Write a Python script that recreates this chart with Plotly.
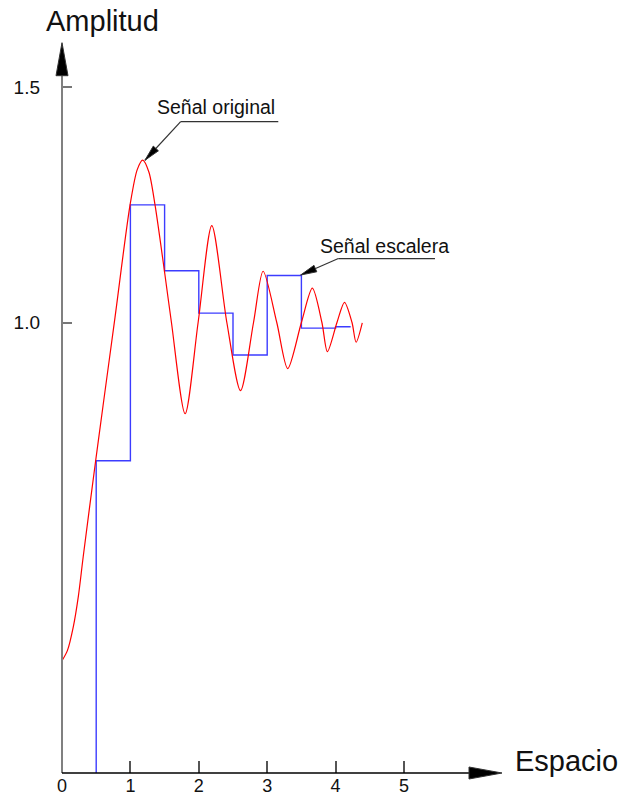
import plotly.graph_objects as go

# ---------------- data ----------------
# original signal (key points; drawn as a spline)
orig_x = [0.0, 0.08, 0.165, 0.24, 0.31, 0.49, 0.60, 0.775, 0.994, 1.10, 1.18, 1.27, 1.36, 1.496, 1.60, 1.80,
          1.99, 2.19, 2.41, 2.61, 2.80, 2.94, 3.14, 3.30, 3.50, 3.66, 3.80, 3.88, 4.02, 4.13, 4.24, 4.30, 4.39]
orig_y = [0.281, 0.303, 0.353, 0.419, 0.502, 0.704, 0.823, 1.011, 1.249, 1.325, 1.345, 1.320, 1.250, 1.111, 1.000, 0.806,
          1.000, 1.206, 1.000, 0.855, 1.000, 1.109, 1.000, 0.902, 1.000, 1.073, 1.000, 0.938, 1.000, 1.043, 1.000, 0.958, 0.999]

# staircase signal
stair_edges = [0.5, 1.0, 1.5, 2.0, 2.5, 3.0, 3.5, 4.0, 4.22]
stair_vals = [0.706, 1.250, 1.110, 1.020, 0.931, 1.100, 0.988, 0.991]
stair_base = 0.0423

x_ticks = [0, 1, 2, 3, 4, 5]
x_tick_labels = ["0", "1", "2", "3", "4", "5"]
y_ticks = [1.0, 1.5]
y_tick_labels = ["1.0", "1.5"]

x_range = [0, 6.5497]
y_range = [0.0423, 1.6112]

# annotation anchors (data coordinates)
orig_label = "Señal original"
orig_text_pos = (2.25, 1.458)
orig_tip = (1.213, 1.345)
orig_knee = (1.735, 1.427)
orig_end = (3.162, 1.427)

esc_label = "Señal escalera"
esc_text_pos = (4.715, 1.163)
esc_tip = (3.49, 1.101)
esc_knee = (4.04, 1.136)
esc_end = (5.453, 1.136)

# ---------------- layout geometry ----------------
W, H = 620, 795
ML, MR, MT, MB = 62, 110, 35, 22
PW, PH = W - ML - MR, H - MT - MB
FONT = "Liberation Sans, Arial, sans-serif"


def d2p(x, y):
    px = ML + (x - x_range[0]) / (x_range[1] - x_range[0]) * PW
    py = MT + (y_range[1] - y) / (y_range[1] - y_range[0]) * PH
    return px, py


def p2paper(px, py):
    return (px - ML) / PW, (H - MB - py) / PH


def arrowhead(tip_px, tail_px, length, halfw, color="black"):
    tx, ty = tip_px
    dx, dy = tail_px[0] - tx, tail_px[1] - ty
    n = (dx * dx + dy * dy) ** 0.5
    ux, uy = dx / n, dy / n
    bx, by = ux * length, uy * length
    nx, ny = -uy * halfw, ux * halfw
    pts = [(0, 0), (bx + nx, by + ny), (bx - nx, by - ny)]
    path = "M " + " L ".join(f"{p[0]:.2f},{-p[1]:.2f}" for p in pts) + " Z"
    ax, ay = p2paper(tx, ty)
    return dict(type="path", xref="paper", yref="paper", xsizemode="pixel", ysizemode="pixel",
                xanchor=ax, yanchor=ay, path=path, fillcolor=color,
                line=dict(color="#333333", width=1), layer="above")


fig = go.Figure()

sx = [stair_edges[0]] + stair_edges
sy = [stair_base] + stair_vals + [stair_vals[-1]]
fig.add_trace(go.Scatter(x=sx, y=sy, mode="lines", line=dict(color="#3c3cff", width=1.4, shape="hv"),
                         hoverinfo="skip", showlegend=False))
fig.add_trace(go.Scatter(x=orig_x, y=orig_y, mode="lines",
                         line=dict(color="#ff0000", width=1.2, shape="spline", smoothing=0.8),
                         hoverinfo="skip", showlegend=False))

shapes = []
# axis lines
x0p, y0p = p2paper(62, 773)
shapes.append(dict(type="line", xref="paper", yref="paper", x0=x0p, x1=x0p, y0=y0p,
                   y1=p2paper(62, 76)[1], line=dict(color="#808080", width=2), layer="above"))
shapes.append(dict(type="line", xref="paper", yref="paper", x0=x0p, x1=p2paper(470, 773)[0], y0=y0p,
                   y1=y0p, line=dict(color="black", width=1.5), layer="above"))
# axis arrowheads
shapes.append(arrowhead((62, 42.7), (62, 76), 33, 6))
shapes.append(arrowhead((502, 773), (469, 773), 33, 6))

# leader lines
for tip, knee, end in [(orig_tip, orig_knee, orig_end), (esc_tip, esc_knee, esc_end)]:
    shapes.append(dict(type="line", xref="x", yref="y", x0=knee[0], y0=knee[1], x1=end[0], y1=end[1],
                       line=dict(color="#333333", width=1.2), layer="above"))
    shapes.append(dict(type="line", xref="x", yref="y", x0=tip[0], y0=tip[1], x1=knee[0], y1=knee[1],
                       line=dict(color="#333333", width=1.2), layer="above"))
    shapes.append(arrowhead(d2p(*tip), d2p(*knee), 16, 3.5))

annotations = []
for txt, pos in [(orig_label, orig_text_pos), (esc_label, esc_text_pos)]:
    annotations.append(dict(x=pos[0], y=pos[1], xref="x", yref="y", text=txt, showarrow=False,
                            xanchor="center", yanchor="middle",
                            font=dict(family=FONT, size=19.5, color="#111111")))

ax_, ay_ = p2paper(102, 21)
annotations.append(dict(x=ax_, y=ay_, xref="paper", yref="paper", text="Amplitud", showarrow=False,
                        xanchor="center", yanchor="middle", font=dict(family=FONT, size=29, color="#111111")))
ex_, ey_ = p2paper(566, 761)
annotations.append(dict(x=ex_, y=ey_, xref="paper", yref="paper", text="Espacio", showarrow=False,
                        xanchor="center", yanchor="middle", font=dict(family=FONT, size=29, color="#111111")))

fig.update_layout(
    width=W, height=H,
    margin=dict(l=ML, r=MR, t=MT, b=MB, pad=0, autoexpand=False),
    plot_bgcolor="white", paper_bgcolor="white",
    shapes=shapes, annotations=annotations,
    xaxis=dict(range=x_range, showgrid=False, zeroline=False, showline=False, automargin=False,
               tickmode="array", tickvals=x_ticks, ticktext=x_tick_labels,
               ticks="inside", ticklen=12, tickwidth=1.5, tickcolor="#555555",
               tickfont=dict(family=FONT, size=18, color="#111111"), fixedrange=True),
    yaxis=dict(range=y_range, showgrid=False, zeroline=False, showline=False, automargin=False,
               tickmode="array", tickvals=y_ticks, ticktext=y_tick_labels,
               ticks="inside", ticklen=10, tickwidth=1.5, tickcolor="#777777",
               ticklabelstandoff=21,
               tickfont=dict(family=FONT, size=19, color="#111111"), fixedrange=True),
)

fig.write_html("out.html", config={"displayModeBar": False},
               post_script="document.body.style.margin='0';document.body.style.overflow='hidden';")
